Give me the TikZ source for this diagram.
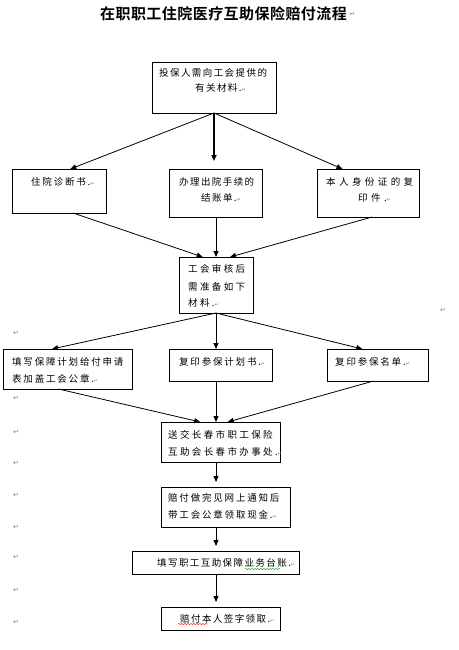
\documentclass[tikz,border=0pt]{standalone}
\usepackage{fontspec}
\newfontfamily\cjkT[LetterSpace=3]{Noto Sans CJK SC Bold}
\newfontfamily\cjkA[LetterSpace=15]{Noto Sans CJK SC}
\newfontfamily\cjkB[LetterSpace=19]{Noto Sans CJK SC}
\newfontfamily\cjkC[LetterSpace=25]{Noto Sans CJK SC}
\newfontfamily\cjkD[LetterSpace=36]{Noto Sans CJK SC}
\newfontfamily\dejavu{DejaVu Sans}
\usetikzlibrary{arrows.meta,calc,decorations.pathmorphing}
\newcommand\pmk{{\dejavu\fontsize{5}{5}\selectfont\color{gray}↵}}
\tikzset{
  box/.style={draw, line width=0.8pt, inner sep=0pt, outer sep=0pt, anchor=north west},
  txt/.style={inner sep=0pt, anchor=west, text height=8pt, text depth=1.5pt},
  A/.style={txt, font=\cjkA\fontsize{9.5}{11}\selectfont},
  B/.style={txt, font=\cjkB\fontsize{9.5}{11}\selectfont},
  C/.style={txt, font=\cjkC\fontsize{9.5}{11}\selectfont},
  D/.style={txt, font=\cjkD\fontsize{9.5}{11}\selectfont},
  arr/.style={draw, line width=0.8pt, -{Triangle[length=6pt,width=5pt]}},
  ret/.style={inner sep=0pt, font=\dejavu\fontsize{7}{7}\selectfont, text=gray},
  wavy/.style={decorate, decoration={snake, amplitude=0.6pt, segment length=3pt}, line width=0.4pt}
}
\begin{document}
\begin{tikzpicture}[x=1pt, y=-1pt]
\useasboundingbox (0,0) rectangle (458,650);
\fill[white] (0,0) rectangle (458,650);
% title
\node[inner sep=0pt, font=\cjkT\fontsize{15}{15}\selectfont] (title) at (223.5,14) {在职职工住院医疗互助保险赔付流程};
\node[ret, anchor=west] (rt) at (title.east) {~↵};
% boxes
\node[box, minimum width=124pt, minimum height=51pt] (b1) at (152,62) {};
\node[box, minimum width=94pt, minimum height=44pt] (b2a) at (12,169) {};
\node[box, minimum width=93pt, minimum height=48pt] (b2b) at (169,169) {};
\node[box, minimum width=102pt, minimum height=48pt] (b2c) at (317,169) {};
\node[box, minimum width=74pt, minimum height=56pt] (b3) at (179,257) {};
\node[box, minimum width=129pt, minimum height=40pt] (b4a) at (3,349) {};
\node[box, minimum width=103pt, minimum height=32pt] (b4b) at (169,349) {};
\node[box, minimum width=101pt, minimum height=32pt] (b4c) at (327,349) {};
\node[box, minimum width=119pt, minimum height=40pt] (b5) at (161,422) {};
\node[box, minimum width=129pt, minimum height=40pt] (b6) at (161,487) {};
\node[box, minimum width=167pt, minimum height=23pt] (b7) at (132,551) {};
\node[box, minimum width=119pt, minimum height=23pt] (b8) at (161,607) {};
% texts
\node[A] (t1a) at (159,73) {投保人需向工会提供的};
\node[A] (t1b) at (195,88) {有关材料.\pmk};
\node[B] (t2a) at (31,182) {住院诊断书.\pmk};
\node[A] (t2b1) at (179,182) {办理出院手续的};
\node[A] (t2b2) at (201,198) {结账单.\pmk};
\node[D] (t2c1) at (326,182) {本人身份证的复};
\node[D] (t2c2) at (358,198) {印件.\pmk};
\node[C] (t3a) at (188,269) {工会审核后};
\node[C] (t3b) at (188,287) {需准备如下};
\node[C] (t3c) at (188,303) {材料.\pmk};
\node[B] (t4a1) at (12,362) {填写保障计划给付申请};
\node[B] (t4a2) at (12,379) {表加盖工会公章.\pmk};
\node[B] (t4b) at (179,362) {复印参保计划书.\pmk};
\node[B] (t4c) at (335,362) {复印参保名单.\pmk};
\node[C] (t5a) at (168,435) {送交长春市职工保险};
\node[C] (t5b) at (168,452) {互助会长春市办事处.\pmk};
\node[B] (t6a) at (168,498) {赔付做完见网上通知后};
\node[B] (t6b) at (168,515) {带工会公章领取现金.\pmk};
\node[A] (t7) at (157,563) {填写职工互助保障业务台账.\pmk};
\node[A] (t8) at (180,619) {赔付本人签字领取.\pmk};
% spell-check underlines
\draw[wavy, green!60!black] (245,569) -- (280,569);
\draw[wavy, red] (178,624) -- (208,624);
% paragraph marks
\foreach \yy [count=\i] in {333,398,432,463,495,527,557,590,622}
  \node[ret] (m\i) at (16,\yy) {↵};
\node[ret] (mr) at (443,310) {↵};
% connectors
\coordinate (axis) at (216,0);
\draw[arr] (b1.south) -- ($(b2a.north west)!0.62!(b2a.north east)$);
\draw[arr, line width=1.6pt, shorten >=8pt] (b1.south) -- (b1.south |- b2b.north);
\draw[arr] (b1.south) -- ($(b2c.north west)!0.25!(b2c.north east)$);
\draw[arr] ($(b2a.south west)!0.65!(b2a.south east)$) -- ($(b3.north west)!0.32!(b3.north east)$);
\draw[arr] (b2b.south -| axis) -- (b3.north -| axis);
\draw[arr] ($(b2c.south west)!0.54!(b2c.south east)$) -- ($(b3.north west)!0.69!(b3.north east)$);
\draw[arr] (b3.south -| axis) -- ($(b4a.north west)!0.38!(b4a.north east)$);
\draw[arr] (b3.south -| axis) -- (b4b.north -| axis);
\draw[arr] (b3.south -| axis) -- ($(b4c.north west)!0.35!(b4c.north east)$);
\draw[arr] ($(b4a.south west)!0.43!(b4a.south east)$) -- ($(b5.north west)!0.33!(b5.north east)$);
\draw[arr] (b4b.south -| axis) -- (b5.north -| axis);
\draw[arr] ($(b4c.south west)!0.46!(b4c.south east)$) -- ($(b5.north west)!0.56!(b5.north east)$);
\draw[arr, shorten >=5pt] (b5.south -| axis) -- (b6.north -| axis);
\draw[arr, shorten >=5pt] (b6.south -| axis) -- (b7.north -| axis);
\draw[arr, shorten >=5pt] (b7.south -| axis) -- (b8.north -| axis);
\end{tikzpicture}
\end{document}
